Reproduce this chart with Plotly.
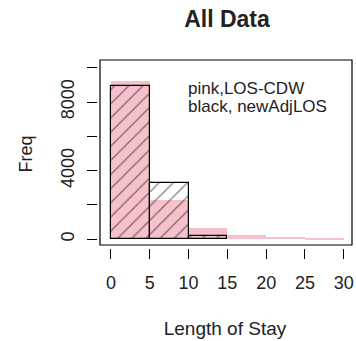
import plotly.graph_objects as go

# Histogram bins for length of stay (days), width 5
bin_starts = [0, 5, 10, 15, 20, 25]
bin_width = 5
los_cdw = [9230, 2300, 650, 260, 130, 40]          # pink series
new_adj_los = [8960, 3310, 210]                     # black hatched series

x_ticks = [0, 5, 10, 15, 20, 25, 30]
y_ticks = [0, 2000, 4000, 6000, 8000, 10000]
y_tick_text = ["0", "", "4000", "", "8000", ""]

W, H = 356, 341
L, R, T, B = 98, 2, 60, 93
font_family = "Liberation Sans, Arial, sans-serif"
ink = "#222222"

centers_pink = [s + bin_width / 2 for s in bin_starts]
centers_black = [s + bin_width / 2 for s in bin_starts[:len(new_adj_los)]]

fig = go.Figure()
fig.add_trace(go.Bar(
    x=centers_pink, y=los_cdw, width=bin_width,
    marker=dict(color="#F7C1CC", line=dict(width=0)),
    name="LOS-CDW", hoverinfo="x+y",
))
fig.add_trace(go.Bar(
    x=centers_black, y=new_adj_los, width=bin_width,
    marker=dict(
        color="rgba(0,0,0,0)",
        line=dict(color="black", width=1.2),
        pattern=dict(shape="/", fgcolor="black", bgcolor="rgba(0,0,0,0)",
                     size=10, solidity=0.12),
    ),
    name="newAdjLOS", hoverinfo="x+y",
))

pw = W - L - R
ph = H - T - B


def px_x(p):
    return (p - L) / pw


def px_y(p):
    return (H - B - p) / ph


fig.update_layout(
    width=W, height=H,
    margin=dict(l=L, r=R, t=T, b=B, pad=0),
    paper_bgcolor="white", plot_bgcolor="white",
    barmode="overlay", bargap=0, showlegend=False,
    font=dict(family=font_family, color=ink, size=18),
    title=dict(text="<b>All Data</b>", x=227 / W, xanchor="center",
               xref="container", yref="container", y=1 - 19 / H,
               yanchor="middle", font=dict(size=23, color=ink)),
    xaxis=dict(
        range=[-1.662, 31.06], showgrid=False, zeroline=False,
        showline=False, ticks="outside", ticklen=10, tickwidth=1.2,
        tickcolor="black", tickvals=x_ticks, tickfont=dict(size=18),
        ticklabelstandoff=8,
        title=dict(text="Length of Stay", standoff=30, font=dict(size=19)),
    ),
    yaxis=dict(
        range=[-507, 10449], showgrid=False, zeroline=False,
        showline=False, ticks="outside", ticklen=10, tickwidth=1.2,
        tickcolor="black", tickvals=y_ticks, ticktext=y_tick_text,
        tickangle=-90, tickfont=dict(size=18), ticklabelstandoff=6,
        title=dict(text="Freq", standoff=20, font=dict(size=18)),
    ),
)

# Plot frame, set slightly inside the axis lines
fig.add_shape(type="rect", xref="paper", yref="paper",
              x0=px_x(100), x1=px_x(354), y0=px_y(245), y1=px_y(60),
              line=dict(color="black", width=1.2), fillcolor="rgba(0,0,0,0)")

fig.add_annotation(text="pink,LOS-CDW", xref="paper", yref="paper",
                   x=px_x(187), y=px_y(88), xanchor="left", yanchor="middle",
                   showarrow=False, font=dict(size=17, color=ink))
fig.add_annotation(text="black, newAdjLOS", xref="paper", yref="paper",
                   x=px_x(187), y=px_y(106.5), xanchor="left", yanchor="middle",
                   showarrow=False, font=dict(size=17, color=ink))

fig.write_html("out.html")
